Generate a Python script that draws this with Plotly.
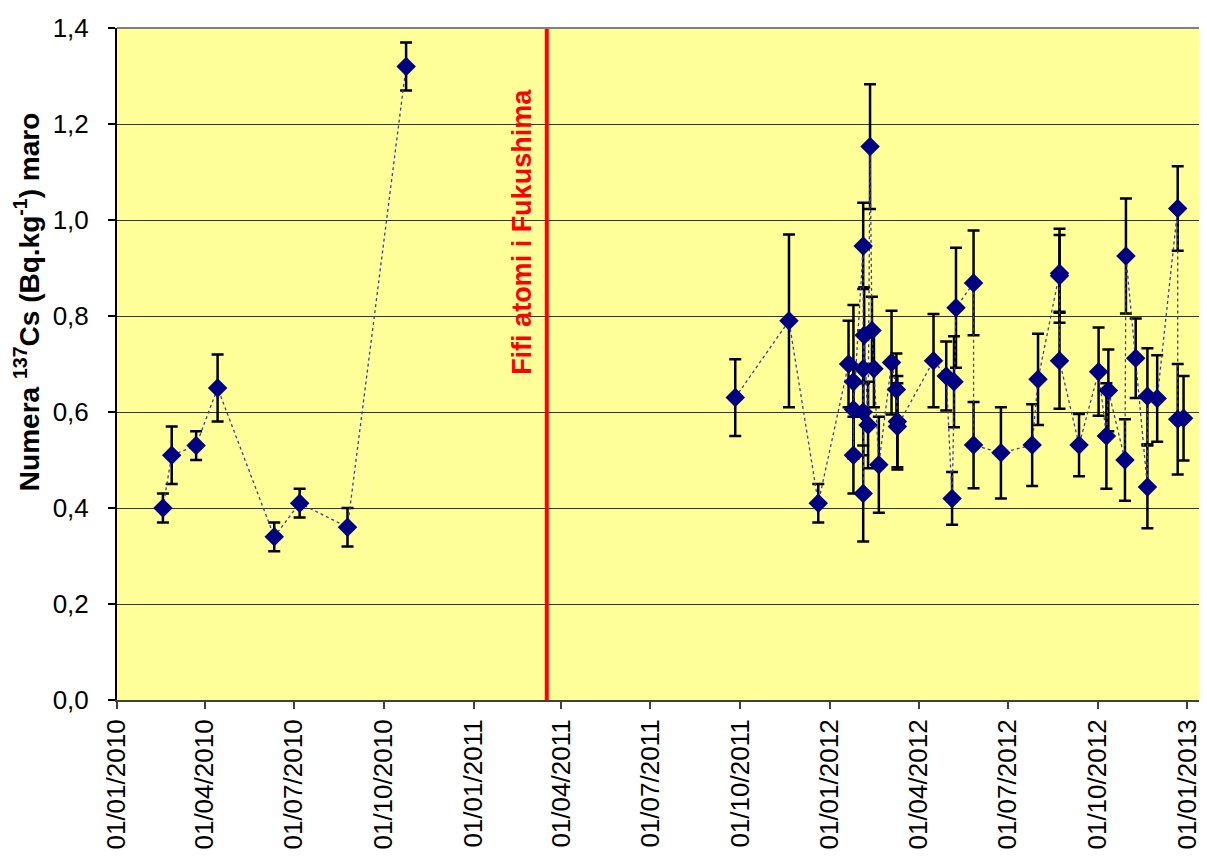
import plotly.graph_objects as go

# ---- data ----
dates = [
    "2010-02-17", "2010-02-26", "2010-03-23", "2010-04-14", "2010-06-11",
    "2010-07-07", "2010-08-25", "2010-10-24",
    "2011-09-26", "2011-11-20", "2011-12-20",
    "2012-01-20", "2012-01-25", "2012-01-25", "2012-01-25",
    "2012-02-04", "2012-02-04", "2012-02-04", "2012-02-04", "2012-02-05",
    "2012-02-09", "2012-02-11", "2012-02-13", "2012-02-15", "2012-02-20",
    "2012-03-04", "2012-03-09", "2012-03-10", "2012-03-10",
    "2012-04-16", "2012-04-29", "2012-05-05", "2012-05-07", "2012-05-09",
    "2012-05-27", "2012-05-27", "2012-06-24", "2012-07-26", "2012-08-01",
    "2012-08-23", "2012-08-23", "2012-08-23", "2012-09-12",
    "2012-10-02", "2012-10-10", "2012-10-12", "2012-10-29", "2012-10-30",
    "2012-11-09", "2012-11-21", "2012-11-21", "2012-12-01",
    "2012-12-22", "2012-12-22", "2012-12-28",
]
values = [
    0.40, 0.51, 0.53, 0.65, 0.34,
    0.41, 0.36, 1.32,
    0.63, 0.79, 0.41,
    0.70, 0.663, 0.51, 0.605,
    0.946, 0.69, 0.60, 0.43, 0.76,
    0.573, 1.153, 0.77, 0.69, 0.49,
    0.703, 0.647, 0.58, 0.57,
    0.707, 0.675, 0.42, 0.663, 0.817,
    0.869, 0.531, 0.515, 0.531, 0.668,
    0.884, 0.889, 0.707, 0.531,
    0.684, 0.55, 0.645, 0.50, 0.925,
    0.712, 0.444, 0.633, 0.628,
    1.024, 0.585, 0.587,
]
errors = [
    0.03, 0.06, 0.03, 0.07, 0.03,
    0.03, 0.04, 0.05,
    0.08, 0.18, 0.04,
    0.09, 0.16, 0.08, 0.09,
    0.09, 0.08, 0.09, 0.10, 0.10,
    0.09, 0.13, 0.07, 0.08, 0.10,
    0.108, 0.075, 0.095, 0.09,
    0.097, 0.072, 0.055, 0.095, 0.125,
    0.109, 0.09, 0.095, 0.085, 0.095,
    0.098, 0.08, 0.10, 0.065,
    0.092, 0.11, 0.085, 0.085, 0.12,
    0.083, 0.086, 0.10, 0.09,
    0.088, 0.115, 0.088,
]

fukushima_date = "2011-03-17"
fukushima_label = "Fifi atomi i Fukushima"
fukushima_label_date = "2011-02-19"
fukushima_label_y = 0.976

x_tickvals = ["2010-01-01", "2010-04-01", "2010-07-01", "2010-10-01",
              "2011-01-01", "2011-04-01", "2011-07-01", "2011-10-01",
              "2012-01-01", "2012-04-01", "2012-07-01", "2012-10-01",
              "2013-01-01"]
x_range = ["2010-01-01", "2013-01-21"]
y_range = [0, 1.4]
y_title = "<b>Numera <sup>137</sup>Cs (Bq.kg<sup>-1</sup>) maro</b>"

FONT = "Arial, Liberation Sans, sans-serif"

fig = go.Figure()

fig.add_trace(go.Scatter(
    x=[fukushima_date, fukushima_date], y=y_range,
    mode="lines", line=dict(color="#ff0000", width=4),
    hoverinfo="skip", showlegend=False,
))

# the series is drawn as two runs: before and after the accident (no line across the gap)
for keep in (lambda d: d < fukushima_date, lambda d: d >= fukushima_date):
    idx = [i for i, d in enumerate(dates) if keep(d)]
    fig.add_trace(go.Scatter(
        x=[dates[i] for i in idx], y=[values[i] for i in idx],
        mode="lines+markers",
        line=dict(color="#3c3ca0", width=1.3, dash="dot"),
        marker=dict(symbol="diamond", size=15, color="#000080"),
        error_y=dict(type="data", array=[errors[i] for i in idx], visible=True,
                     color="#000000", thickness=2.5, width=6),
        showlegend=False,
    ))

fig.add_annotation(
    x=fukushima_label_date, y=fukushima_label_y, xref="x", yref="y",
    text="<b>" + fukushima_label + "</b>", textangle=-90, showarrow=False,
    font=dict(family=FONT, size=27, color="#ff0000"),
    xanchor="center", yanchor="middle",
)

fig.add_annotation(
    x=-0.0826, y=0.592, xref="paper", yref="paper",
    text=y_title, textangle=-90, showarrow=False,
    font=dict(family=FONT, size=28, color="#000000"),
    xanchor="center", yanchor="middle",
)

fig.add_shape(type="line", xref="paper", yref="paper",
              x0=0, x1=1, y0=1, y1=1,
              line=dict(color="#808080", width=2))

fig.update_layout(
    width=1199, height=851,
    margin=dict(l=109, r=0, t=20, b=159),
    paper_bgcolor="#ffffff",
    plot_bgcolor="#ffff99",
    separators=", ",
    font=dict(family=FONT, color="#000000"),
    xaxis=dict(
        type="date", range=x_range,
        tickvals=x_tickvals, tickformat="%d/%m/%Y", tickangle=-90,
        tickfont=dict(family=FONT, size=26, color="#000000"),
        showgrid=False, zeroline=False,
        showline=True, linecolor="#404040", linewidth=2,
        ticks="outside", ticklen=7, tickcolor="#404040", tickwidth=1.5,
    ),
    yaxis=dict(
        range=y_range, dtick=0.2, tickformat=".1f",
        tickfont=dict(family=FONT, size=26, color="#000000"),
        showgrid=True, gridcolor="#333333", gridwidth=1,
        zeroline=False,
        showline=True, linecolor="#000000", linewidth=2,
        ticks="outside", ticklen=7, tickcolor="#000000", tickwidth=1.5,
        ticklabelstandoff=14,
    ),
)

fig.write_html("out.html")
